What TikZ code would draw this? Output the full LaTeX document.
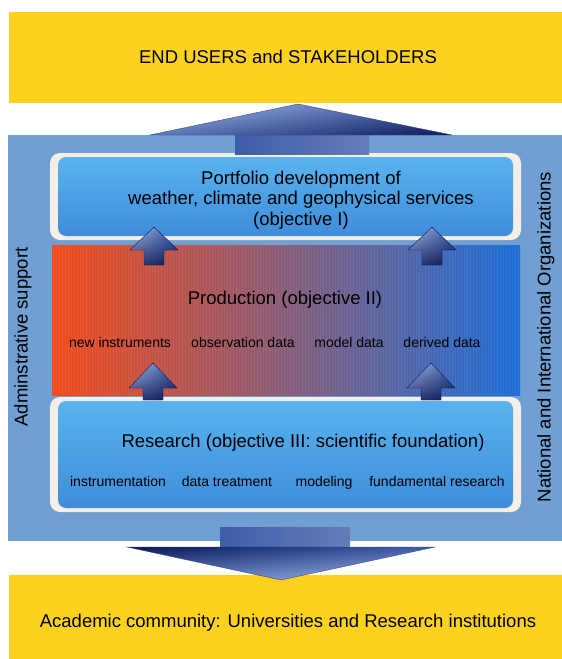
\documentclass[tikz,border=0pt]{standalone}
\usepackage{fontspec}
\setmainfont{Liberation Sans}
\usetikzlibrary{shadings}
\definecolor{yel}{HTML}{FDD21E}
\definecolor{panel}{HTML}{709FD3}
\definecolor{boxtop}{HTML}{58B3EF}
\definecolor{boxbot}{HTML}{3F8DDA}
\definecolor{rim}{HTML}{F4EEE7}
\definecolor{navy}{HTML}{0B1858}
\definecolor{midarr}{HTML}{3E5CA8}
\definecolor{lightarr}{HTML}{A9C0EA}
\definecolor{prodL}{HTML}{F24B1B}
\definecolor{prodM}{HTML}{8E5470}
\definecolor{prodR}{HTML}{1C6FD8}
\begin{document}
\begin{tikzpicture}[x=1pt,y=-1pt,
  main/.style={font=\fontsize{18.5}{20.5}\selectfont, text=black, inner sep=0pt, text height=13pt, text depth=4pt},
  sub/.style={font=\fontsize{14}{16}\selectfont, text=black, inner sep=0pt, text height=10pt, text depth=3pt},
  smallarrow/.style={draw=navy, line width=0.4pt, upper left=lightarr, upper right=midarr, lower left=navy!85!white, lower right=navy}]
\useasboundingbox (0,0) rectangle (562,659);
\fill[white] (0,0) rectangle (562,659);
% yellow bands
\fill[yel] (9,12) rectangle (562,103);
\fill[yel] (9,575) rectangle (562,659);
% main panel
\fill[panel] (8,135) rectangle (562,541);
% portfolio box
\fill[rim, rounded corners=10pt] (50,153) rectangle (521,240);
\shade[top color=boxtop, bottom color=boxbot, rounded corners=8pt] (58,157) rectangle (513,236);
% production band
\shade[left color=prodL, middle color=prodM, right color=prodR] (52,245) rectangle (520,395);
\foreach \xx in {53,56,...,519} \draw[white, opacity=0.06, line width=0.8pt] (\xx,245) -- (\xx,395);
% research box
\fill[rim, rounded corners=10pt] (50,397) rectangle (521,512);
\shade[top color=boxtop, bottom color=boxbot, rounded corners=8pt] (58,401) rectangle (513,508);
% top big arrow
\shade[left color=midarr, middle color=navy, right color=midarr!80!white] (235,133) rectangle (369,154);
\shade[upper left=lightarr, upper right=midarr, lower left=midarr!70!lightarr, lower right=navy, draw=navy!80] (150,135) -- (298,104) -- (452,135) -- cycle;
% bottom big arrow
\shade[left color=midarr, middle color=navy, right color=midarr!80!white] (220,527) rectangle (350,549);
\shade[upper left=navy, upper right=midarr, lower left=midarr!80!lightarr, lower right=lightarr, draw=navy!80] (127,547) -- (435,547) -- (281,580) -- cycle;
% small arrows
\foreach \c/\t/\b/\s in {154/227/250/265, 432/227/250/265, 153/363/388/400, 431/363/388/400}
  \shade[smallarrow] (\c-24,\b) -- (\c,\t) -- (\c+24,\b) -- (\c+10,\b) -- (\c+10,\s) -- (\c-10,\s) -- (\c-10,\b) -- cycle;
% texts
\node[main] (users) at (288,59) {END USERS and STAKEHOLDERS};
\node[main, align=center, text height=, text depth=] (port) at (301,200) {Portfolio development of\\weather, climate and geophysical services\\(objective I)};
\node[main] (prod) at (285,300) {Production (objective II)};
\node[sub] (p1) at (120,344) {new instruments};
\node[sub] (p2) at (243,344) {observation data};
\node[sub] (p3) at (349,344) {model data};
\node[sub] (p4) at (442,344) {derived data};
\node[main] (res) at (303,443) {Research (objective III: scientific foundation)};
\node[sub] (r1) at (118,483) {instrumentation};
\node[sub] (r2) at (227,483) {data treatment};
\node[sub] (r3) at (324,483) {modeling};
\node[sub] (r4) at (437,483) {fundamental research};
\node[main, rotate=90] (admin) at (23,337) {Adminstrative support};
\node[main, rotate=90] (natl) at (546,337) {National and International Organizations};
\node[main] (acad) at (288,623) {Academic community: Universities and Research institutions};
\end{tikzpicture}
\end{document}
